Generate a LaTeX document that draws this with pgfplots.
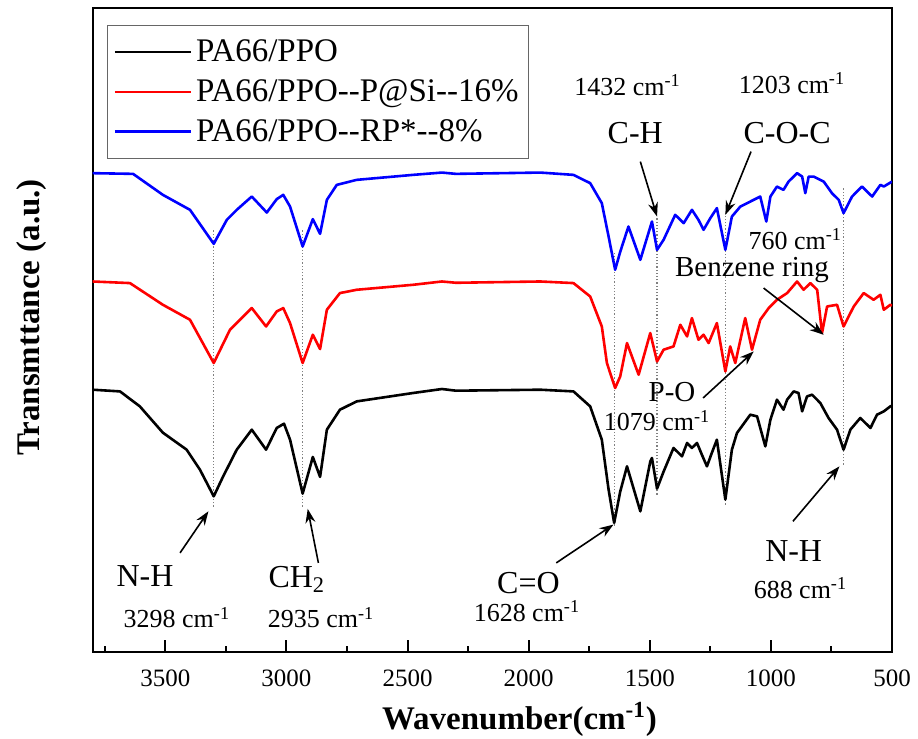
\documentclass[border=0pt]{standalone}
\usepackage{fontspec}
\setmainfont{Liberation Serif}
\usepackage{pgfplots}
\pgfplotsset{compat=1.18}
\usetikzlibrary{arrows.meta}

\begin{document}
\begin{tikzpicture}
\begin{axis}[
    name=ax,
    scale only axis,
    width=400pt, height=322pt,
    x dir=reverse,
    xmin=500, xmax=3800,
    ymin=0, ymax=644,
    ytick=\empty,
    xtick={500,1000,...,3500},
    minor xtick={750,1250,...,3750},
    xtick pos=bottom,
    tick align=inside,
    major tick length=5.8pt,
    minor tick length=2.8pt,
    every tick/.style={black, line width=1pt},
    axis line style={line width=1pt},
    /pgf/number format/assume math mode=true,
    /pgf/number format/set thousands separator={},
    xticklabel style={font=\fontsize{12.5}{14}\selectfont, anchor=base, yshift=-17.3pt},
    xlabel={Wavenumber(cm\textsuperscript{-1})},
    ylabel={Transmttance (a.u.)},
    every axis x label/.style={at={(axis description cs:0.534,0)}, anchor=center,
        yshift=-34pt, font=\bfseries\fontsize{16.5}{19}\selectfont},
    every axis y label/.style={at={(axis description cs:-0.0758,0.519)}, rotate=90,
        anchor=center, font=\bfseries\fontsize{16.5}{19}\selectfont},
    clip mode=individual,
    legend style={at={(axis description cs:0.018,0.9736)}, anchor=north west,
        draw=gray!80!black, line width=0.6pt,
        font=\fontsize{16.5}{19}\selectfont,
        inner xsep=3pt, inner ysep=5pt, row sep=3.5pt,
        /tikz/every even column/.append style={column sep=2pt}},
    legend cell align=left,
    legend image code/.code={\draw[#1] (0pt,0pt) -- (38pt,0pt);},
]

% dotted guide lines
\draw[gray, densely dotted, line width=0.6pt] (axis cs:3300,145) -- (axis cs:3300,422);
\draw[gray, densely dotted, line width=0.6pt] (axis cs:2933,145) -- (axis cs:2933,422);
\draw[gray, densely dotted, line width=0.6pt] (axis cs:1645,126) -- (axis cs:1645,399);
\draw[gray, densely dotted, line width=0.6pt] (axis cs:1470,157) -- (axis cs:1470,435);
\draw[gray, densely dotted, line width=0.6pt] (axis cs:1188,147) -- (axis cs:1188,439);
\draw[gray, densely dotted, line width=0.6pt] (axis cs:700,187) -- (axis cs:700,465);

\addplot[black, line width=1.3pt, line join=round] coordinates {
(3800,262) (3687,260.3) (3605,245.3) (3510,219) (3412,202) (3357,182) (3300,155.3)
(3261,175.3) (3205,202) (3143,222) (3084,202) (3040,223.7) (3010,228) (2985,212)
(2933,158) (2891,194.7) (2861,174.7) (2833,222) (2779,242) (2710,250.3) (2477,258.7)
(2358,262.7) (2300,261) (1952,262) (1815,260.3) (1746,245.3) (1698,212) (1670,162)
(1647,128.7) (1622,160) (1594,185.3) (1539,140.3) (1498,190) (1491,193.7) (1470,163)
(1443,180) (1402,203.7) (1367,195.3) (1346,208.7) (1326,203.7) (1305,208.7)
(1285,197) (1264,185.3) (1245,198) (1223,212) (1188,152) (1161,202) (1140,218.7)
(1085,237) (1057,235.3) (1023,205.3) (1002,232) (975,252) (948,242) (933,252)
(906,260.3) (886,258.7) (871,240.3) (851,255.3) (830,257) (796,248.7) (762,233.7)
(727,222) (700,202) (672,222) (631,233.7) (589,223.7) (562,237) (534,240.3)
(507,245.3) (500,246)
};
\addlegendentry{PA66/PPO}

\addplot[red, line width=1.3pt, line join=round] coordinates {
(3800,370.3) (3646,368.7) (3510,347) (3398,332) (3300,288.7) (3233,322) (3143,343.7)
(3084,325.3) (3040,340.3) (3013,343.7) (2985,328.7) (2933,288.7) (2891,317)
(2861,302.7) (2833,342) (2779,358.7) (2710,362) (2477,367) (2358,370.3) (2300,369)
(1952,370.3) (1815,368.7) (1746,355.3) (1698,325.3) (1677,288.7) (1643,263.7)
(1622,275.3) (1594,308.7) (1546,277) (1498,318.7) (1470,290.3) (1443,302)
(1402,305.3) (1374,327) (1346,315.3) (1326,333.7) (1299,312) (1278,317)
(1257,308.7) (1223,328.7) (1188,280.3) (1168,305.3) (1147,288.7) (1106,333.7)
(1078,302) (1044,332) (1009,343.7) (975,352) (933,358.7) (892,370.3) (865,362)
(837,368.7) (809,362) (789,318.7) (768,345.3) (727,347) (700,325.3) (658,345.3)
(617,358.7) (576,352) (548,357) (534,342) (507,347) (500,346)
};
\addlegendentry{PA66/PPO-{}-P@Si-{}-16\%}

\addplot[blue, line width=1.3pt, line join=round] coordinates {
(3800,478.7) (3633,478) (3510,457) (3398,442) (3300,408) (3246,432) (3205,442)
(3143,455.3) (3081,439.3) (3040,452.7) (3013,457) (2985,445.3) (2933,405.3)
(2891,432.7) (2861,418) (2833,452) (2792,467) (2710,472) (2477,477) (2358,479.3)
(2300,478) (1952,479.3) (1815,477) (1746,468.7) (1698,448.7) (1670,415.3) (1643,382)
(1622,400) (1588,425.3) (1539,392) (1491,430.3) (1470,402) (1443,412) (1395,437)
(1360,428.7) (1326,442) (1299,432) (1278,422) (1250,433.7) (1223,443.7) (1188,402)
(1161,435.3) (1126,445.3) (1071,452) (1044,455.3) (1019,430.3) (1002,455.3)
(975,465.3) (948,462) (927,470.3) (892,478.7) (871,475.3) (858,458.7) (844,475.3)
(824,475.3) (782,470.3) (748,458.7) (720,452) (700,438.7) (665,455.3) (624,465.3)
(582,455.3) (548,467) (534,465.3) (500,470.3)
};
\addlegendentry{PA66/PPO-{}-RP*-{}-8\%}

% annotations
\tikzset{grp/.style={font=\fontsize{16}{18}\selectfont, inner sep=0pt},
         wn/.style={font=\fontsize{13}{15}\selectfont, inner sep=0pt},
         sm/.style={font=\fontsize{14.5}{16}\selectfont, inner sep=0pt},
         arr/.style={-{Stealth[length=7pt,width=5pt]}, line width=0.8pt}}
\node[grp] at (axis cs:3584,75.3) {N-H};
\node[wn] at (axis cs:3452,34) {3298 cm\textsuperscript{-1}};
\draw[arr] (axis cs:3439,98.7) -- (axis cs:3322,140.3);

\node[grp] at (axis cs:2957,72) {CH\textsubscript{2}};
\node[wn] at (axis cs:2857,34) {2935 cm\textsuperscript{-1}};
\draw[arr] (axis cs:2868,88.7) -- (axis cs:2912,142.7);

\node[grp] at (axis cs:2001,68.7) {C=O};
\node[wn] at (axis cs:2007,40.3) {1628 cm\textsuperscript{-1}};
\draw[arr] (axis cs:1886,88.7) -- (axis cs:1650,127);

\node[grp] at (axis cs:906,100.3) {N-H};
\node[wn] at (axis cs:878,63.7) {688 cm\textsuperscript{-1}};
\draw[arr] (axis cs:909,130.3) -- (axis cs:717,185.3);

\node[sm] at (axis cs:1408,260) {P-O};
\node[wn] at (axis cs:1470,231) {1079 cm\textsuperscript{-1}};
\draw[arr] (axis cs:1280,253.7) -- (axis cs:1071,300.3);

\node[wn] at (axis cs:1592,567) {1432 cm\textsuperscript{-1}};
\node[grp] at (axis cs:1560,518.7) {C-H};
\draw[arr] (axis cs:1539,490.3) -- (axis cs:1470,435.3);

\node[wn] at (axis cs:913,568.7) {1203 cm\textsuperscript{-1}};
\node[grp] at (axis cs:933,518.7) {C-O-C};
\draw[arr] (axis cs:1082,500.3) -- (axis cs:1188,437);

\node[wn] at (axis cs:899,413) {760 cm\textsuperscript{-1}};
\node[sm] at (axis cs:1078,381.5) {Benzene ring};
\draw[arr] (axis cs:1030,363.7) -- (axis cs:782,317);
\end{axis}
\pgfresetboundingbox
\path[use as bounding box] ([shift={(-46.35pt,-43.5pt)}]ax.south west) rectangle ([shift={(13pt,4pt)}]ax.north east);
\end{tikzpicture}
\end{document}
